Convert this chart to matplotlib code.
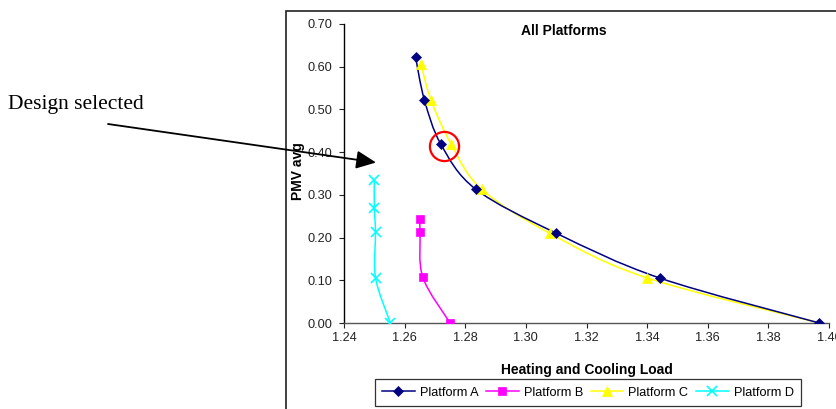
import numpy as np
import matplotlib
matplotlib.use("Agg")
import matplotlib.pyplot as plt
from matplotlib.path import Path
from matplotlib.patches import PathPatch, Rectangle, FancyArrowPatch
from matplotlib.lines import Line2D

# ---------------- data ----------------
series_names = ["Platform A", "Platform B", "Platform C", "Platform D"]
a_x = [1.2636, 1.2665, 1.2720, 1.2835, 1.3098, 1.3443, 1.3968]
a_y = [0.623, 0.523, 0.418, 0.313, 0.211, 0.105, 0.000]
b_x = [1.2650, 1.2651, 1.2660, 1.2750]
b_y = [0.244, 0.212, 0.107, 0.000]
c_x = [1.2654, 1.2687, 1.2754, 1.2854, 1.3079, 1.3398, 1.3968]
c_y = [0.606, 0.522, 0.418, 0.313, 0.210, 0.106, 0.000]
d_x = [1.2500, 1.2500, 1.2504, 1.2504, 1.2553]
d_y = [0.335, 0.269, 0.212, 0.106, 0.000]
selected_x, selected_y = 1.2731, 0.415
x_ticks = [1.24, 1.26, 1.28, 1.30, 1.32, 1.34, 1.36, 1.38, 1.40]
y_ticks = [0.0, 0.1, 0.2, 0.3, 0.4, 0.5, 0.6, 0.7]
title = "All Platforms"
x_label = "Heating and Cooling Load"
y_label = "PMV avg"
note = "Design selected"

W, H = 836, 409
fig = plt.figure(figsize=(W / 100, H / 100), dpi=100)
plt.rcParams['font.family'] = ['Liberation Sans', 'DejaVu Sans']

def fx(px):
    return px / W

def fy(py):
    return 1 - py / H

ax = fig.add_axes([fx(344), fy(323), fx(829) - fx(344), fy(24) - fy(323)])
ax.set_xlim(1.24, 1.40)
ax.set_ylim(0.0, 0.70)


def smooth(ax, xs, ys, color, lw):
    pts = np.column_stack([xs, ys]).astype(float)
    n = len(pts)
    verts = [pts[0]]
    codes = [Path.MOVETO]
    for i in range(n - 1):
        p0 = pts[max(i - 1, 0)]
        p1 = pts[i]
        p2 = pts[i + 1]
        p3 = pts[min(i + 2, n - 1)]
        c1 = p1 + (p2 - p0) / 6.0
        c2 = p2 - (p3 - p1) / 6.0
        verts += [c1, c2, p2]
        codes += [Path.CURVE4] * 3
    ax.add_patch(PathPatch(Path(verts, codes), facecolor='none',
                           edgecolor=color, lw=lw, zorder=2))


colors = ['#000080', '#FF00FF', '#FFFF00', '#00FFFF']
markers = ['D', 's', '^', 'x']
msizes = [5.5, 6, 7.5, 7]
datasets = [(a_x, a_y), (b_x, b_y), (c_x, c_y), (d_x, d_y)]
order = [1, 3, 2, 0]
for i in order:
    xs, ys = datasets[i]
    smooth(ax, xs, ys, colors[i], 1.1)
    ax.plot(xs, ys, ls='none', marker=markers[i], color=colors[i],
            ms=msizes[i], mew=1.2 if markers[i] == 'x' else 0.5, zorder=3)

# selected design circle
ax.plot([selected_x], [selected_y], ls='none', marker='o', ms=21,
        mfc='none', mec='#FF0000', mew=1.6, zorder=4)

for s in ['top', 'right']:
    ax.spines[s].set_visible(False)
ax.spines['left'].set_color('black')
ax.spines['bottom'].set_color('#555555')
ax.spines['left'].set_linewidth(1.0)
ax.spines['bottom'].set_linewidth(1.0)
ax.set_xticks(x_ticks)
ax.set_yticks(y_ticks)
ax.set_xticklabels([f"{v:.2f}" for v in x_ticks])
ax.set_yticklabels([f"{v:.2f}" for v in y_ticks])
ax.tick_params(axis='both', direction='out', length=3.5, width=0.8,
               labelsize=9.2, colors='#222222', pad=3)
ax.tick_params(axis='y', pad=5)
ax.patch.set_alpha(0)

# outer chart frame
fig.add_artist(Rectangle((fx(286), -0.2), 1.5, fy(11) + 0.2,
                         transform=fig.transFigure, fill=False,
                         edgecolor='#222222', lw=1.2, zorder=0))

fig.text(fx(564), fy(31), title, ha='center', va='center',
         fontsize=10, fontweight='bold')
fig.text(fx(587), fy(370), x_label, ha='center', va='center',
         fontsize=10, fontweight='bold')
fig.text(fx(298), fy(171), y_label, ha='center', va='center',
         rotation=90, fontsize=10, fontweight='bold')

handles = [Line2D([0], [0], color=colors[i], lw=1.1, marker=markers[i],
                  ms=msizes[i], mew=1.2 if markers[i] == 'x' else 0.5)
           for i in range(4)]
leg = fig.legend(handles, series_names, loc='center',
                 bbox_to_anchor=(fx(588), fy(392.5)), ncol=4,
                 fontsize=9.2, frameon=True, fancybox=False,
                 edgecolor='black', handlelength=2.55, handletextpad=0.4,
                 columnspacing=0.6, borderpad=0.6, borderaxespad=0)
leg.get_frame().set_linewidth(0.9)

fig.text(fx(8), fy(109), note, ha='left', va='baseline', fontsize=15.5,
         family=['Liberation Serif', 'DejaVu Serif'])

arrow = FancyArrowPatch((fx(108), fy(124)), (fx(376), fy(162.5)),
                        transform=fig.transFigure,
                        arrowstyle='-|>,head_length=12,head_width=5.5',
                        mutation_scale=1, color='black', lw=1.3,
                        shrinkA=0, shrinkB=0, zorder=10)
fig.add_artist(arrow)

fig.savefig("out.png", dpi=100)
